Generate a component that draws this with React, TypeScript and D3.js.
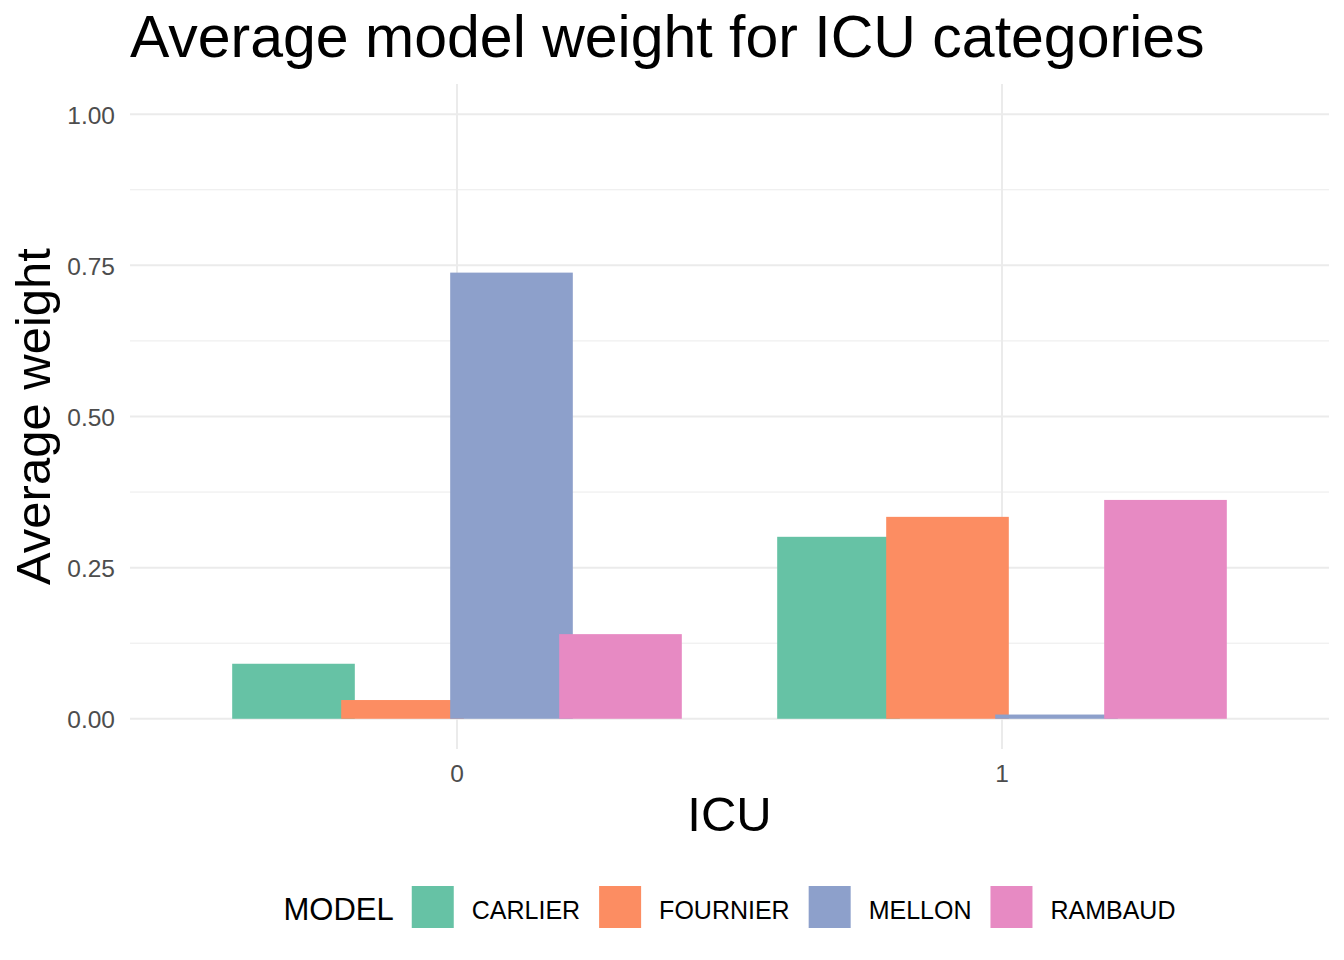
import {useEffect, useRef} from "react";
import * as d3 from "d3";

const icu = ["0", "1"];
const models = ["CARLIER", "FOURNIER", "MELLON", "RAMBAUD"];
const carlier = [0.091, 0.301];
const fournier = [0.031, 0.334];
const mellon = [0.738, 0.007];
const rambaud = [0.140, 0.362];
const colors = ["#66C2A5", "#FC8D62", "#8DA0CB", "#E78AC3"];
const yTicks = [0, 0.25, 0.5, 0.75, 1];
const yMinor = [0.125, 0.375, 0.625, 0.875];

const FONT = "Liberation Sans, Arial, sans-serif";

export default function App() {
  const svgRef = useRef<SVGSVGElement | null>(null);

  useEffect(() => {
    const width = 1344;
    const height = 960;
    const panel = {left: 130, right: 1329, top: 84, bottom: 749};

    const svg = d3.select(svgRef.current);
    svg.selectAll("*").remove();
    svg.attr("width", width).attr("height", height);

    const series = [carlier, fournier, mellon, rambaud];

    const x = d3.scalePoint<string>().domain(icu).range([panel.left, panel.right]).padding(0.6);
    const y = d3.scaleLinear().domain([-0.05, 1.05]).range([panel.bottom, panel.top]);
    const step = x.step();
    const barW = (0.9 * step) / models.length;
    const dodge = (0.8 * step) / models.length;

    // grid
    svg.append("g").selectAll("line").data(yMinor).enter().append("line")
        .attr("x1", panel.left).attr("x2", panel.right)
        .attr("y1", d => y(d)).attr("y2", d => y(d))
        .attr("stroke", "#EBEBEB").attr("stroke-width", 1);
    svg.append("g").selectAll("line").data(yTicks).enter().append("line")
        .attr("x1", panel.left).attr("x2", panel.right)
        .attr("y1", d => y(d)).attr("y2", d => y(d))
        .attr("stroke", "#EBEBEB").attr("stroke-width", 2);
    svg.append("g").selectAll("line").data(icu).enter().append("line")
        .attr("x1", d => x(d)!).attr("x2", d => x(d)!)
        .attr("y1", panel.top).attr("y2", panel.bottom)
        .attr("stroke", "#EBEBEB").attr("stroke-width", 2);

    // bars
    const bars: Array<{g: string, m: number, v: number}> = [];
    icu.forEach((g, gi) => {
      models.forEach((_, mi) => bars.push({g, m: mi, v: series[mi][gi]}));
    });
    svg.append("g").selectAll("rect").data(bars).enter().append("rect")
        .attr("x", d => x(d.g)! + (d.m - (models.length - 1) / 2) * dodge - barW / 2)
        .attr("width", barW)
        .attr("y", d => y(d.v))
        .attr("height", d => y(0) - y(d.v))
        .attr("fill", d => colors[d.m]);

    // y tick labels
    svg.append("g").selectAll("text").data(yTicks).enter().append("text")
        .attr("x", 115).attr("y", d => y(d) + 9.5)
        .attr("text-anchor", "end")
        .attr("font-family", FONT).attr("font-size", 24.5)
        .attr("fill", "#4D4D4D")
        .text(d => d3.format(".2f")(d));

    // x tick labels
    svg.append("g").selectAll("text").data(icu).enter().append("text")
        .attr("x", d => x(d)!).attr("y", 782)
        .attr("text-anchor", "middle")
        .attr("font-family", FONT).attr("font-size", 24.5)
        .attr("fill", "#4D4D4D")
        .text(d => d);

    const cx = (panel.left + panel.right) / 2;
    const cy = (panel.top + panel.bottom) / 2;

    svg.append("text")
        .attr("x", panel.left).attr("y", 57)
        .attr("font-family", FONT).attr("font-size", 59)
        .attr("fill", "#000")
        .text("Average model weight for ICU categories");

    svg.append("text")
        .attr("x", cx).attr("y", 831)
        .attr("text-anchor", "middle")
        .attr("font-family", FONT).attr("font-size", 49)
        .text("ICU");

    svg.append("text")
        .attr("transform", `translate(50,${cy}) rotate(-90)`)
        .attr("text-anchor", "middle")
        .attr("font-family", FONT).attr("font-size", 49)
        .text("Average weight");

    // legend
    const ctx = document.createElement("canvas").getContext("2d")!;
    ctx.font = `31px ${FONT}`;
    const titleW = ctx.measureText("MODEL").width;
    ctx.font = `25px ${FONT}`;
    const labelW = models.map(m => ctx.measureText(m).width);
    const key = 42;
    const gap1 = 18;
    const gap2 = 19;
    const total = titleW + gap1 + d3.sum(labelW) + models.length * (key + gap1 + gap2) - gap2;
    let lx = cx - total / 2;
    const keyTop = 886;
    const legend = svg.append("g");
    legend.append("text")
        .attr("x", lx).attr("y", 920)
        .attr("font-family", FONT).attr("font-size", 31)
        .text("MODEL");
    lx += titleW + gap1;
    models.forEach((m, i) => {
      legend.append("rect")
          .attr("x", lx).attr("y", keyTop)
          .attr("width", key).attr("height", key)
          .attr("fill", colors[i]);
      lx += key + gap1;
      legend.append("text")
          .attr("x", lx).attr("y", 918.5)
          .attr("font-family", FONT).attr("font-size", 25)
          .text(m);
      lx += labelW[i] + gap2;
    });
  }, []);

  return (
    <div style={{position: "absolute", left: 0, top: 0}}>
      <svg ref={svgRef} style={{display: "block", background: "#fff"}} />
    </div>
  );
}
